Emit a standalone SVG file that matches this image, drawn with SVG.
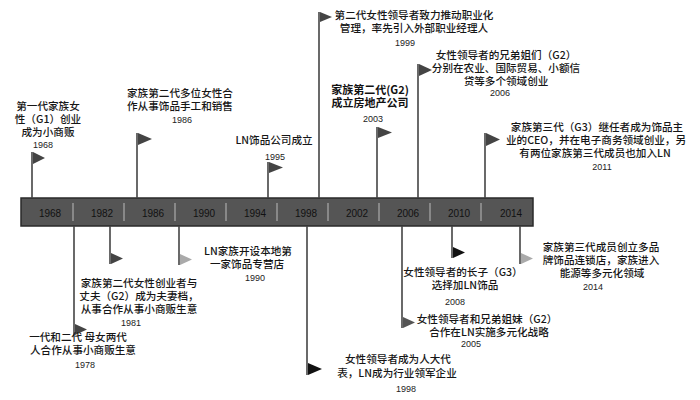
<svg xmlns="http://www.w3.org/2000/svg" width="700" height="400" viewBox="0 0 700 400">
<style>
.t{font-family:"Noto Sans CJK SC","Liberation Sans",sans-serif;font-size:10.6px;font-weight:500;fill:#161616;text-anchor:middle}
.tb{font-family:"Noto Sans CJK SC","Liberation Sans",sans-serif;font-size:11px;font-weight:bold;fill:#111;text-anchor:middle}
.y{font-family:"Liberation Sans",sans-serif;font-size:9px;font-weight:normal;fill:#222;text-anchor:middle}
.b{font-family:"Liberation Sans",sans-serif;font-size:10px;fill:#111;text-anchor:middle}
.pole{stroke:#444;stroke-width:1.6;fill:none}
.div{stroke:#9a9a9a;stroke-width:1.5}
.f{fill:#444}
.fk{fill:#111}
.fm{fill:#555}
.fl{fill:#aaa}
</style>
<rect width="700" height="400" fill="#fff"/>
<g id="timeline-bar">
<rect x="21" y="198" width="512" height="28" fill="#555" stroke="#2a2a2a" stroke-width="1.5"/>
<line class="div" x1="73" y1="203" x2="73" y2="221"/>
<line class="div" x1="124" y1="203" x2="124" y2="221"/>
<line class="div" x1="175" y1="203" x2="175" y2="221"/>
<line class="div" x1="226" y1="203" x2="226" y2="221"/>
<line class="div" x1="277" y1="203" x2="277" y2="221"/>
<line class="div" x1="328" y1="203" x2="328" y2="221"/>
<line class="div" x1="379" y1="203" x2="379" y2="221"/>
<line class="div" x1="430" y1="203" x2="430" y2="221"/>
<line class="div" x1="481" y1="203" x2="481" y2="221"/>
<text class="b" x="50" y="216.5">1968</text>
<text class="b" x="102" y="216.5">1982</text>
<text class="b" x="153" y="216.5">1986</text>
<text class="b" x="204" y="216.5">1990</text>
<text class="b" x="255" y="216.5">1994</text>
<text class="b" x="306" y="216.5">1998</text>
<text class="b" x="357" y="216.5">2002</text>
<text class="b" x="408" y="216.5">2006</text>
<text class="b" x="459" y="216.5">2010</text>
<text class="b" x="511" y="216.5">2014</text>
</g>
<g id="connectors">
<line class="pole" x1="32" y1="152" x2="32" y2="198"/>
<line class="pole" x1="137" y1="133" x2="137" y2="198"/>
<line class="pole" x1="268" y1="162" x2="268" y2="198"/>
<line class="pole" x1="319" y1="12" x2="319" y2="198"/>
<line class="pole" x1="377" y1="127" x2="377" y2="198"/>
<line class="pole" x1="418" y1="64" x2="418" y2="198"/>
<line class="pole" x1="485" y1="133" x2="485" y2="198"/>
<line class="pole" x1="74" y1="226" x2="74" y2="335"/>
<line class="pole" x1="110" y1="226" x2="110" y2="264"/>
<line class="pole" x1="179" y1="226" x2="179" y2="265"/>
<line class="pole" x1="307" y1="226" x2="307" y2="375"/>
<line class="pole" x1="402" y1="226" x2="402" y2="328"/>
<line class="pole" x1="452" y1="226" x2="452" y2="258"/>
<line class="pole" x1="520" y1="226" x2="520" y2="264"/>
</g>
<g id="e1968">
<polygon class="f" points="33,152 45,158 33,164"/>
<text class="t"><tspan x="48" y="110">第一代家族女</tspan><tspan x="48" y="123">性（G1）创业</tspan><tspan x="48" y="136">成为小商贩</tspan><tspan class="y" x="43" y="148">1968</tspan></text>
</g>
<g id="e1986">
<polygon class="f" points="138,133 152,139 138,145"/>
<text class="t"><tspan x="180" y="97">家族第二代多位女性合</tspan><tspan x="180" y="110">作从事饰品手工和销售</tspan><tspan class="y" x="182" y="123">1986</tspan></text>
</g>
<g id="e1995">
<polygon class="f" points="269,162 283,167.5 269,173"/>
<text class="t"><tspan x="274" y="144">LN饰品公司成立</tspan><tspan class="y" x="275" y="160">1995</tspan></text>
</g>
<g id="e1999">
<polygon class="f" points="320,12 332,17 320,22"/>
<text class="t"><tspan x="414" y="19">第二代女性领导者致力推动职业化</tspan><tspan x="414" y="32">管理，率先引入外部职业经理人</tspan><tspan class="y" x="405" y="46">1999</tspan></text>
</g>
<g id="e2003">
<polygon class="f" points="378,127 392,132.5 378,138"/>
<text class="tb"><tspan x="370" y="94">家族第二代(G2)</tspan><tspan x="370" y="107">成立房地产公司</tspan><tspan class="y" x="373" y="122">2003</tspan></text>
</g>
<g id="e2006">
<polygon class="f" points="419,64 432,70 419,76"/>
<text class="t"><tspan x="506" y="59">女性领导者的兄弟姐们（G2）</tspan><tspan x="506" y="72">分别在农业、国际贸易、小额信</tspan><tspan x="506" y="85">贷等多个领域创业</tspan><tspan class="y" x="500" y="96">2006</tspan></text>
</g>
<g id="e2011">
<polygon class="f" points="486,133 500,139.5 486,146"/>
<text class="t"><tspan x="597" y="131">家族第三代（G3）继任者成为饰品主</tspan><tspan x="596" y="144">业的CEO，并在电子商务领域创业，另</tspan><tspan x="595" y="157">有两位家族第三代成员也加入LN</tspan><tspan class="y" x="602" y="170">2011</tspan></text>
</g>
<g id="e1978">
<polygon class="f" points="75,324 87,329.5 75,335"/>
<text class="t"><tspan x="78" y="341">一代和二代 母女两代</tspan><tspan x="83" y="354">人合作从事小商贩生意</tspan><tspan class="y" x="85" y="368">1978</tspan></text>
</g>
<g id="e1981">
<polygon class="f" points="111,253 123,258.5 111,264"/>
<text class="t"><tspan x="139" y="287">家族第二代女性创业者与</tspan><tspan x="139" y="300">丈夫（G2）成为夫妻档，</tspan><tspan x="139" y="313">从事合作从事小商贩生意</tspan><tspan class="y" x="131" y="326">1981</tspan></text>
</g>
<g id="e1990">
<polygon class="fl" points="180,254 192,259.5 180,265"/>
<text class="t"><tspan x="248" y="255">LN家族开设本地第</tspan><tspan x="247" y="268">一家饰品专营店</tspan><tspan class="y" x="255" y="281">1990</tspan></text>
</g>
<g id="e1998">
<polygon class="fk" points="308,363 322,369 308,375"/>
<text class="t"><tspan x="398" y="363">女性领导者成为人大代</tspan><tspan x="397" y="377">表，LN成为行业领军企业</tspan><tspan class="y" x="406" y="392">1998</tspan></text>
</g>
<g id="e2005">
<polygon class="fm" points="403,317 415,322.5 403,328"/>
<text class="t"><tspan x="487" y="323">女性领导者和兄弟姐妹（G2）</tspan><tspan x="489" y="336">合作在LN实施多元化战略</tspan><tspan class="y" x="471" y="347">2005</tspan></text>
</g>
<g id="e2008">
<polygon class="fk" points="453,247 465,252.5 453,258"/>
<text class="t"><tspan x="463" y="276">女性领导者的长子（G3）</tspan><tspan x="465" y="289">选择加LN饰品</tspan><tspan class="y" x="455" y="305">2008</tspan></text>
</g>
<g id="e2014">
<polygon class="fl" points="521,253 533,258.5 521,264"/>
<text class="t"><tspan x="601" y="251">家族第三代成员创立多品</tspan><tspan x="601" y="264">牌饰品连锁店，家族进入</tspan><tspan x="602" y="277">能源等多元化领域</tspan><tspan class="y" x="593" y="290">2014</tspan></text>
</g>
</svg>
